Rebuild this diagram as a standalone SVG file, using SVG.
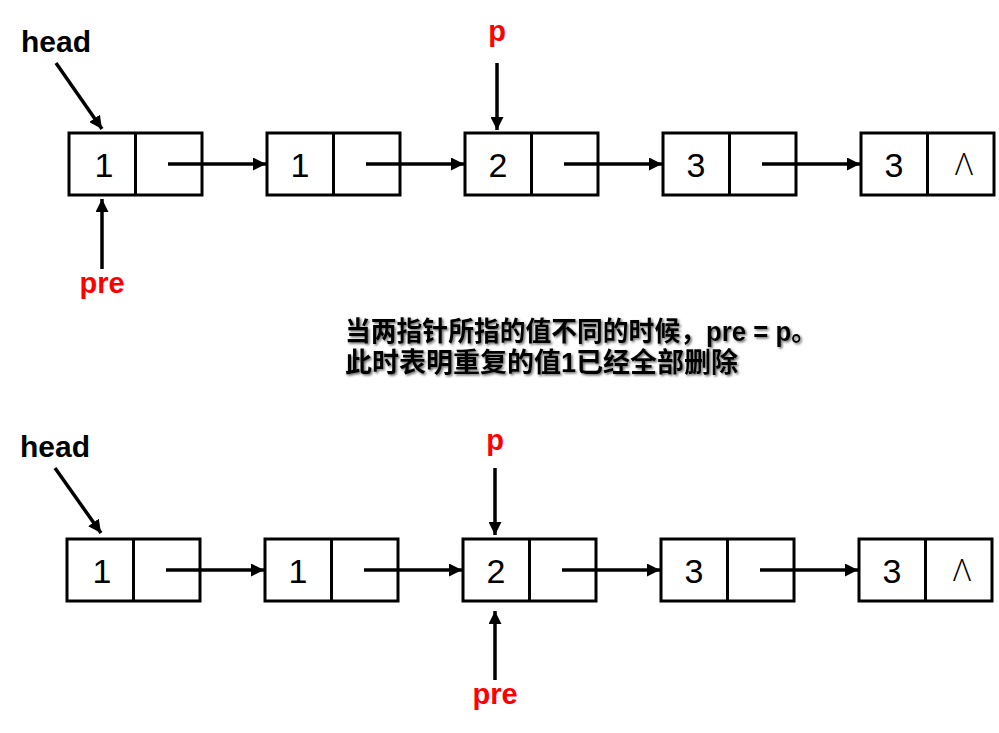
<svg xmlns="http://www.w3.org/2000/svg" width="999" height="733" viewBox="0 0 999 733">
<style>
.box{fill:#fff;stroke:#000;stroke-width:3}
.div{stroke:#000;stroke-width:3}
.num{font-family:"Liberation Sans",Arial,sans-serif;font-size:34px;fill:#000;text-anchor:middle}
.nil{font-family:"Open Sans","Liberation Sans",sans-serif;font-weight:300;font-size:31px;fill:#000;text-anchor:middle}
.lbl{font-family:"Liberation Sans",Arial,sans-serif;font-size:29px;font-weight:bold}
.red{fill:#ff0000;text-anchor:middle}
.blk{fill:#000;font-size:30px}
.arr{stroke:#000;stroke-width:3.5;fill:none;marker-end:url(#ah)}
.note{font-family:"Liberation Sans","Noto Sans CJK SC",sans-serif;font-size:27px;font-weight:bold;fill:#000;filter:url(#sh)}
</style>
<defs>
<marker id="ah" viewBox="0 0 13 13" refX="13" refY="6.5" markerWidth="13" markerHeight="13" markerUnits="userSpaceOnUse" orient="auto">
<path d="M0,0 L13,6.5 L0,13 z" fill="#000"/>
</marker>
<filter id="sh" x="-5%" y="-20%" width="110%" height="140%">
<feDropShadow dx="1.5" dy="1.5" stdDeviation="0.8" flood-color="#444" flood-opacity="0.8"/>
</filter>
</defs>

<!-- top row nodes -->
<g id="t1"><rect class="box" x="69" y="133" width="133" height="62"/><line class="div" x1="135.5" y1="133" x2="135.5" y2="195"/><text class="num" x="104" y="177">1</text></g>
<g id="t2"><rect class="box" x="267" y="133" width="133" height="62"/><line class="div" x1="333.5" y1="133" x2="333.5" y2="195"/><text class="num" x="300" y="177">1</text></g>
<g id="t3"><rect class="box" x="465" y="133" width="133" height="62"/><line class="div" x1="531.5" y1="133" x2="531.5" y2="195"/><text class="num" x="498" y="177">2</text></g>
<g id="t4"><rect class="box" x="663" y="133" width="133" height="62"/><line class="div" x1="729.5" y1="133" x2="729.5" y2="195"/><text class="num" x="696" y="177">3</text></g>
<g id="t5"><rect class="box" x="861" y="133" width="133" height="62"/><line class="div" x1="927.5" y1="133" x2="927.5" y2="195"/><text class="num" x="894" y="177">3</text><text class="nil" x="964" y="175">Λ</text></g>

<!-- bottom row nodes -->
<g id="b1"><rect class="box" x="67" y="539" width="133" height="62"/><line class="div" x1="133.5" y1="539" x2="133.5" y2="601"/><text class="num" x="102" y="583">1</text></g>
<g id="b2"><rect class="box" x="265" y="539" width="133" height="62"/><line class="div" x1="331.5" y1="539" x2="331.5" y2="601"/><text class="num" x="298" y="583">1</text></g>
<g id="b3"><rect class="box" x="463" y="539" width="133" height="62"/><line class="div" x1="529.5" y1="539" x2="529.5" y2="601"/><text class="num" x="496" y="583">2</text></g>
<g id="b4"><rect class="box" x="661" y="539" width="133" height="62"/><line class="div" x1="727.5" y1="539" x2="727.5" y2="601"/><text class="num" x="694" y="583">3</text></g>
<g id="b5"><rect class="box" x="859" y="539" width="133" height="62"/><line class="div" x1="925.5" y1="539" x2="925.5" y2="601"/><text class="num" x="892" y="583">3</text><text class="nil" x="962" y="581">Λ</text></g>

<!-- labels -->
<g id="labels">
<text class="lbl blk" x="21" y="52">head</text>
<text class="lbl red" x="497" y="41">p</text>
<text class="lbl red" x="102" y="293">pre</text>
<text class="lbl blk" x="20" y="457">head</text>
<text class="lbl red" x="495" y="450">p</text>
<text class="lbl red" x="495" y="704">pre</text>
</g>

<g id="note">
<text class="note" x="345" y="341" textLength="472" lengthAdjust="spacingAndGlyphs">当两指针所指的值不同的时候，pre = p。</text>
<text class="note" x="345" y="372" textLength="393" lengthAdjust="spacingAndGlyphs">此时表明重复的值1已经全部删除</text>
</g>

<!-- connectors -->
<g id="connectors">
<line class="arr" x1="168" y1="164" x2="266" y2="164"/>
<line class="arr" x1="366" y1="164" x2="464" y2="164"/>
<line class="arr" x1="564" y1="164" x2="662" y2="164"/>
<line class="arr" x1="762" y1="164" x2="860" y2="164"/>
<line class="arr" x1="56" y1="63" x2="102" y2="129"/>
<line class="arr" x1="497" y1="63" x2="497" y2="130"/>
<line class="arr" x1="102" y1="269" x2="102" y2="199"/>

<line class="arr" x1="166" y1="570" x2="264" y2="570"/>
<line class="arr" x1="364" y1="570" x2="462" y2="570"/>
<line class="arr" x1="562" y1="570" x2="660" y2="570"/>
<line class="arr" x1="760" y1="570" x2="858" y2="570"/>
<line class="arr" x1="55" y1="468" x2="101" y2="533"/>
<line class="arr" x1="495" y1="468" x2="495" y2="535"/>
<line class="arr" x1="495" y1="680" x2="495" y2="611"/>
</g>
</svg>
